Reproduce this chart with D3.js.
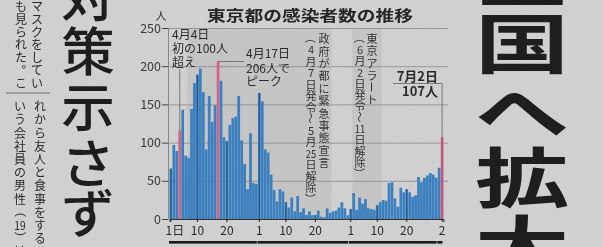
<!DOCTYPE html>
<html>
<head>
<meta charset="utf-8">
<script src="https://cdn.jsdelivr.net/npm/d3@7"></script>
<style>
  html, body { margin: 0; padding: 0; background: #d4d4d4; }
  svg { display: block; }
  text { font-family: "Noto Sans CJK JP", "Noto Sans", sans-serif; fill: #2b2b2b; }
</style>
</head>
<body>
<svg id="chart" width="603" height="247"></svg>
<script>
// daily new cases in Tokyo, by month
var apr = [66, 97, 89, 116, 143, 83, 80, 144, 178, 189, 197, 166, 91, 161, 127,
           149, 206, 181, 107, 102, 123, 132, 134, 161, 103, 72, 39, 112, 47, 46];
var may = [165, 154, 91, 87, 58, 38, 23, 39, 36, 22, 15, 28, 10, 30, 9, 14,
           5, 10, 5, 5, 11, 3, 2, 14, 8, 10, 11, 15, 22, 14, 5];
var jun = [13, 34, 12, 28, 20, 26, 14, 13, 12, 18, 22, 25, 24, 47, 48, 27,
           16, 41, 35, 39, 35, 29, 31, 55, 48, 54, 57, 60, 58, 54];
var jul = [67, 107];

var yTicks = [0, 50, 100, 150, 200, 250];
// x ticks: [day index, label]
var xTicks = [[0, "1日"], [9, "10"], [19, "20"], [30, "1"], [39, "10"], [49, "20"],
              [61, "1"], [70, "10"], [80, "20"], [92, "2"]];
var highlight = [3, 16, 92];          // 4/4, 4/17, 7/2
var emergency = [6, 54];              // 4/7 - 5/25
var alert = [62, 71];                 // 6/2 - 6/11

var values = apr.concat(may, jun, jul);
var months = [apr, may, jun, jul];

var svg = d3.select("#chart");

/*
 * vertical (tategaki) text, one token per cell
 */
function vtext(g, str, x, y0, size, pitch, color) {
  var tokens = str.match(/\d+|./g);
  var rot = "（）～ー";
  tokens.forEach(function(t, i) {
    var cy = y0 + pitch * i + pitch / 2;
    var dx = 0, dy = 0;
    if (t === "。" || t === "、") { dx = size * 0.55; dy = -size * 0.55; }
    var tr = "translate(" + (x + dx) + "," + (cy + dy) + ")";
    if (rot.indexOf(t) >= 0) tr += " rotate(90)";
    var el = g.append("text")
      .attr("transform", tr)
      .attr("text-anchor", "middle")
      .attr("dominant-baseline", "central")
      .style("font-size", size + "px")
      .style("fill", color || "#2b2b2b")
      .text(t);
    if (t.length > 1) {
      el.attr("textLength", size * 0.95).attr("lengthAdjust", "spacingAndGlyphs");
    }
  });
}

// headline characters, stacked, optionally widened
function headline(g, chars, x, centers, size, sx, weight) {
  chars.forEach(function(c, i) {
    g.append("text")
      .attr("transform", "translate(" + x + "," + centers[i] + ") scale(" + sx + ",1)")
      .attr("text-anchor", "middle")
      .attr("dominant-baseline", "central")
      .style("font-size", size + "px")
      .style("font-weight", weight)
      .style("fill", "#1e1e1e")
      .text(c);
  });
}

// noise, like newsprint
var defs = svg.append("defs");
var f = defs.append("filter").attr("id", "grain");
f.append("feTurbulence").attr("type", "fractalNoise").attr("baseFrequency", 0.9)
  .attr("numOctaves", 2).attr("seed", 3);
f.append("feColorMatrix").attr("type", "saturate").attr("values", 0);

svg.append("rect").attr("width", 603).attr("height", 247).attr("fill", "#d4d4d4");

/*
 * the article around the chart
 */
var article = svg.append("g");
vtext(article, "マスクをしてい", 37, -1, 12, 12.8);
vtext(article, "も見られた。こ", 21, -1, 12, 12.8);
vtext(article, "れから友人と食事をする", 40, 99, 12, 13.2);
vtext(article, "いう会社員の男性（19）は", 20, 99, 12, 13.2);
article.append("line")
  .attr("x1", 6).attr("x2", 50).attr("y1", 93).attr("y2", 93)
  .attr("stroke", "#555").attr("stroke-width", 0.8);

headline(article, ["対", "策", "示", "さ", "ず"], 88, [-6, 48, 104, 160, 210], 52, 1.03, 500);
headline(article, ["全", "国", "へ", "拡", "大"], 522, [-29, 39, 107, 173, 241], 65, 1.45, 700);

/*
 * the chart
 */
var x = d3.scaleBand()
  .domain(d3.range(values.length))
  .range([169.5, 443.5])
  .paddingInner(0.06);
var y = d3.scaleLinear().domain([0, 250]).range([219, 28]);
var bw = x.bandwidth();

var chart = svg.append("g");

// shaded periods
[emergency, alert].forEach(function(p) {
  chart.append("rect")
    .attr("x", x(p[0]))
    .attr("y", y(250))
    .attr("width", x(p[1]) + bw - x(p[0]))
    .attr("height", y(0) - y(250))
    .attr("fill", "#c8c8c8");
});

// grid
chart.selectAll("line.grid")
  .data(yTicks.slice(1)).enter()
  .append("line")
    .attr("class", "grid")
    .attr("x1", 168).attr("x2", 448)
    .attr("y1", function(d) { return y(d) + 0.5; })
    .attr("y2", function(d) { return y(d) + 0.5; })
    .attr("stroke", "#8c8c8c")
    .attr("stroke-width", 0.8);

// bars
chart.selectAll("rect.bar")
  .data(values).enter()
  .append("rect")
    .attr("class", "bar")
    .attr("x", function(d, i) { return x(i); })
    .attr("y", function(d) { return y(d); })
    .attr("width", bw)
    .attr("height", function(d) { return y(0) - y(d); })
    .attr("fill", function(d, i) { return highlight.indexOf(i) >= 0 ? "#d4678c" : "#3d82c2"; });

// darker day markers through the bars
chart.selectAll("line.mark")
  .data(xTicks).enter()
  .append("line")
    .attr("class", "mark")
    .attr("x1", function(d) { return x(d[0]) + bw / 2; })
    .attr("x2", function(d) { return x(d[0]) + bw / 2; })
    .attr("y1", y(0))
    .attr("y2", function(d) { return y(values[d[0]]); })
    .attr("stroke", function(d) { return highlight.indexOf(d[0]) >= 0 ? "#b04a70" : "#1f4f82"; })
    .attr("stroke-width", 0.9);

// y axis
var yAxis = chart.append("g")
  .attr("transform", "translate(168,0)")
  .call(d3.axisLeft(y).tickValues(yTicks).tickSize(6).tickPadding(1));
yAxis.select(".domain").attr("stroke", "#777").attr("stroke-width", 0.8);
yAxis.selectAll(".tick line").attr("stroke", "#444");
yAxis.selectAll(".tick text")
  .style("font-size", "12.5px")
  .style("fill", "#3a3a3a");
chart.append("text")
  .attr("x", 161).attr("y", 20)
  .attr("text-anchor", "middle")
  .style("font-size", "11px")
  .text("人");

// x axis
var xAxis = chart.append("g")
  .attr("transform", "translate(0,219)")
  .call(d3.axisBottom(x)
    .tickValues(xTicks.map(function(d) { return d[0]; }))
    .tickFormat(function(d) { return xTicks.find(function(t) { return t[0] === d; })[1]; })
    .tickSize(3).tickPadding(4));
xAxis.select(".domain").attr("stroke", "#333").attr("stroke-width", 1);
xAxis.selectAll(".tick line").attr("stroke", "#222");
xAxis.selectAll(".tick text")
  .style("font-size", "12px")
  .style("fill", "#2a2a2a")
  .attr("dx", function(d) { return d === 0 ? 4 : 0; });

// month bars under the axis
var start = 0;
months.forEach(function(m) {
  var s = start, e = start + m.length - 1;
  chart.append("rect")
    .attr("x", x(s) - 0.5)
    .attr("y", 241)
    .attr("width", x(e) + bw - x(s) - 0.5)
    .attr("height", 2.6)
    .attr("fill", "#1a1a1a");
  start += m.length;
});

// title
chart.append("text")
  .attr("transform", "translate(310,21) scale(1.25,1)")
  .attr("text-anchor", "middle")
  .style("font-size", "15px")
  .style("font-weight", 700)
  .style("fill", "#262626")
  .text("東京都の感染者数の推移");

/*
 * annotations
 */
var note = chart.append("g").style("font-size", "12px").style("fill", "#333");
note.append("text").attr("x", 172).attr("y", 38.5).text("4月4日");
note.append("text").attr("x", 172).attr("y", 53).text("初の100人");
note.append("text").attr("x", 172).attr("y", 66.5).text("超え");
chart.append("line")
  .attr("x1", x(3) + bw / 2).attr("x2", x(3) + bw / 2)
  .attr("y1", 69).attr("y2", y(values[3]))
  .attr("stroke", "#555").attr("stroke-width", 0.7);

note.append("text").attr("x", 246).attr("y", 58).text("4月17日");
note.append("text").attr("x", 246).attr("y", 72.5).text("206人で");
note.append("text").attr("x", 246).attr("y", 85.5).text("ピーク");
chart.append("line")
  .attr("x1", x(16) + bw / 2).attr("x2", 244)
  .attr("y1", 61.5).attr("y2", 61.5)
  .attr("stroke", "#555").attr("stroke-width", 0.7);

note.append("text").attr("x", 438).attr("y", 81).attr("text-anchor", "end")
  .style("font-size", "13px").style("font-weight", 700).text("7月2日");
note.append("text").attr("x", 438).attr("y", 95.5).attr("text-anchor", "end")
  .style("font-size", "13px").style("font-weight", 700).text("107人");
chart.append("path")
  .attr("d", "M393," + 83.5 + "H" + (x(92) + bw / 2) + "V" + y(values[92]))
  .attr("fill", "none")
  .attr("stroke", "#555").attr("stroke-width", 0.7);

vtext(chart, "政府が都に緊急事態宣言", 324, 32, 11, 12.4, "#333");
vtext(chart, "（4月7日発令～5月25日解除）", 311, 32, 11, 11.5, "#333");
vtext(chart, "東京アラート", 372, 32, 11, 12.2, "#333");
vtext(chart, "（6月2日発令～11日解除）", 360, 32, 11, 11.3, "#333");

// newsprint grain on top
svg.append("rect").attr("width", 603).attr("height", 247)
  .attr("filter", "url(#grain)")
  .style("mix-blend-mode", "multiply")
  .attr("opacity", 0.12);
</script>
</body>
</html>
